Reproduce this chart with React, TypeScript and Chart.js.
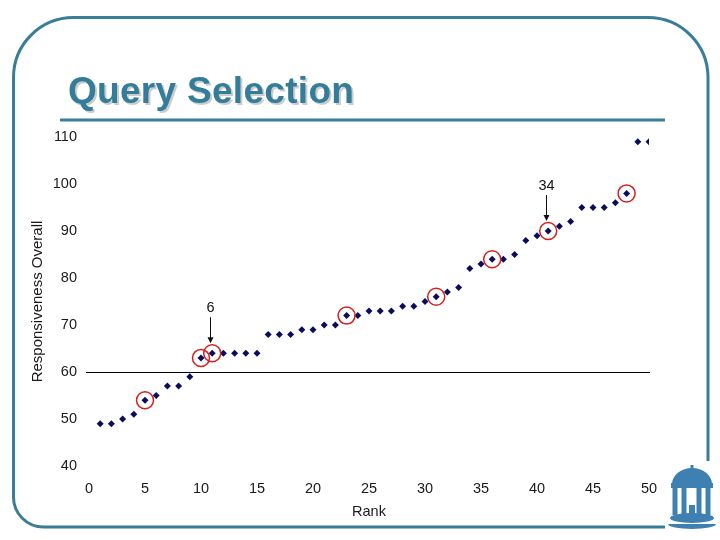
import React, { useEffect, useRef } from "react";
import { Chart, registerables } from "chart.js";

Chart.register(...registerables);

// ---- data ----
const ranks = [
  1, 2, 3, 4, 5, 6, 7, 8, 9, 10, 11, 12, 13, 14, 15, 16, 17, 18, 19, 20, 21, 22, 23, 24, 25,
  26, 27, 28, 29, 30, 31, 32, 33, 34, 35, 36, 37, 38, 39, 40, 41, 42, 43, 44, 45, 46, 47, 48, 49, 50,
];
const responsiveness = [
  49, 49, 50, 51, 54, 55, 57, 57, 59, 63, 64, 64, 64, 64, 64, 68, 68, 68, 69, 69, 70, 70, 72, 72, 73,
  73, 73, 74, 74, 75, 76, 77, 78, 82, 83, 84, 84, 85, 88, 89, 90, 91, 92, 95, 95, 95, 96, 98, 109, 109,
];
const selectedRanks = [5, 10, 11, 23, 31, 36, 41, 48];
const annotationLabels = ["6", "34"];
const annotationRanks = [11, 41];
const xTickValues = [0, 5, 10, 15, 20, 25, 30, 35, 40, 45, 50];
const yTickValues = [40, 50, 60, 70, 80, 90, 100, 110];
const referenceValue = 60;
const slideTitle = "Query Selection";
const xTitle = "Rank";
const yTitle = "Responsiveness Overall";

const TEAL = "#337c9a";
const LOGO = "#3f80b3";
const FONT = "Arial, 'Liberation Sans', sans-serif";

const slidePlugin = {
  id: "slide",
  beforeDraw(chart: any) {
    const ctx = chart.ctx;
    ctx.save();
    ctx.fillStyle = "#ffffff";
    ctx.fillRect(0, 0, chart.width, chart.height);

    // frame
    const L = 13.5, T = 17.5, R = 708, B = 527;
    const rt = 60, rb = 30;
    ctx.strokeStyle = "#3a7d99";
    ctx.lineWidth = 3;
    ctx.beginPath();
    ctx.moveTo(665, B);
    ctx.lineTo(L + rb, B);
    ctx.arcTo(L, B, L, B - rb, rb);
    ctx.lineTo(L, T + rt);
    ctx.arcTo(L, T, L + rt, T, rt);
    ctx.lineTo(R - rt, T);
    ctx.arcTo(R, T, R, T + rt, rt);
    ctx.lineTo(R, 461);
    ctx.stroke();

    // title
    ctx.font = `bold 37px ${FONT}`;
    try { (ctx as any).letterSpacing = "0.3px"; } catch (e) {}
    ctx.textBaseline = "alphabetic";
    ctx.textAlign = "left";
    ctx.fillStyle = "rgba(0,0,0,0.2)";
    ctx.fillText(slideTitle, 70, 105);
    ctx.fillStyle = TEAL;
    ctx.fillText(slideTitle, 68, 103);
    try { (ctx as any).letterSpacing = "0px"; } catch (e) {}

    // rule
    ctx.fillStyle = "#3a7d99";
    ctx.fillRect(60, 118.5, 605, 3);

    // logo (Old Well)
    ctx.fillStyle = LOGO;
    ctx.beginPath();
    ctx.ellipse(692, 484, 20, 16, 0, Math.PI, 2 * Math.PI);
    ctx.fill();
    ctx.fillRect(690.5, 465, 3, 4);
    ctx.fillRect(671, 483, 42, 5);
    const cols = [675, 684, 699, 708];
    cols.forEach((c) => ctx.fillRect(c - 2.5, 488, 5, 27));
    ctx.fillRect(689, 505, 6, 10);
    ctx.beginPath();
    ctx.ellipse(692, 518, 22, 5, 0, 0, 2 * Math.PI);
    ctx.fill();
    ctx.beginPath();
    ctx.ellipse(692, 524, 24, 5, 0, 0, Math.PI);
    ctx.fill();
    ctx.restore();
  },
  beforeDatasetsDraw(chart: any) {
    const ctx = chart.ctx;
    const y = chart.scales.y.getPixelForValue(referenceValue);
    const area = chart.chartArea;
    ctx.save();
    ctx.strokeStyle = "#000";
    ctx.lineWidth = 1;
    ctx.beginPath();
    ctx.moveTo(area.left - 3, Math.round(y) + 0.5);
    ctx.lineTo(area.right + 1, Math.round(y) + 0.5);
    ctx.stroke();
    ctx.restore();
  },
  afterDatasetsDraw(chart: any) {
    const ctx = chart.ctx;
    const xs = chart.scales.x;
    const ys = chart.scales.y;
    ctx.save();
    ctx.strokeStyle = "#d42020";
    ctx.lineWidth = 1.5;
    selectedRanks.forEach((r) => {
      const i = ranks.indexOf(r);
      const px = xs.getPixelForValue(r);
      const py = ys.getPixelForValue(responsiveness[i]);
      ctx.beginPath();
      ctx.arc(px, py, 8.5, 0, 2 * Math.PI);
      ctx.stroke();
    });

    ctx.fillStyle = "#111";
    ctx.strokeStyle = "#111";
    ctx.lineWidth = 1;
    ctx.font = `14.5px ${FONT}`;
    ctx.textAlign = "center";
    ctx.textBaseline = "middle";
    annotationLabels.forEach((lab, k) => {
      const r = annotationRanks[k];
      const i = ranks.indexOf(r);
      const px = Math.round(xs.getPixelForValue(r) - 2.5) + 0.5;
      const py = ys.getPixelForValue(responsiveness[i]);
      const tip = py - 10;
      ctx.beginPath();
      ctx.moveTo(px, tip - 26);
      ctx.lineTo(px, tip - 4);
      ctx.stroke();
      ctx.beginPath();
      ctx.moveTo(px - 3, tip - 6);
      ctx.lineTo(px + 3, tip - 6);
      ctx.lineTo(px, tip);
      ctx.closePath();
      ctx.fill();
      ctx.fillText(lab, px, tip - 35);
    });
    ctx.restore();
  },
};

export default function App() {
  const ref = useRef<HTMLCanvasElement | null>(null);
  useEffect(() => {
    if (!ref.current) return;
    const chart = new Chart(ref.current, {
      type: "scatter",
      data: {
        datasets: [
          {
            data: ranks.map((r, i) => ({ x: r, y: responsiveness[i] })),
            pointStyle: "rectRot",
            pointRadius: 3.5,
            pointBackgroundColor: "#0c0c5e",
            pointBorderColor: "#0c0c5e",
            pointBorderWidth: 0,
          },
        ],
      },
      options: {
        animation: false,
        responsive: false,
        layout: { padding: { top: 137, right: 71, bottom: 0, left: 0 } },
        plugins: { legend: { display: false }, tooltip: { enabled: false } },
        scales: {
          x: {
            type: "linear",
            min: 0,
            max: 50,
            afterFit: (s: any) => {
              s.height = 74;
            },
            afterBuildTicks: (s: any) => {
              s.ticks = xTickValues.map((v) => ({ value: v }));
            },
            grid: { display: false, drawTicks: false },
            border: { display: false },
            ticks: {
              autoSkip: false,
              maxRotation: 0,
              padding: 14,
              color: "#1a1a1a",
              font: { family: FONT, size: 14.5 },
            },
            title: {
              display: true,
              text: xTitle,
              color: "#1a1a1a",
              font: { family: FONT, size: 14.5 },
              padding: { top: 0, bottom: 19 },
            },
          },
          y: {
            type: "linear",
            min: 40,
            max: 110,
            afterFit: (s: any) => {
              s.width = 89;
            },
            afterBuildTicks: (s: any) => {
              s.ticks = yTickValues.map((v) => ({ value: v }));
            },
            grid: { display: false, drawTicks: false },
            border: { display: false },
            ticks: {
              autoSkip: false,
              padding: 12,
              color: "#1a1a1a",
              font: { family: FONT, size: 14.5 },
            },
            title: {
              display: true,
              text: yTitle,
              color: "#1a1a1a",
              font: { family: FONT, size: 15 },
              padding: { top: 28.5, bottom: 0 },
            },
          },
        },
      },
      plugins: [slidePlugin],
    });
    return () => chart.destroy();
  }, []);
  return (
    <div style={{ position: "fixed", left: 0, top: 0, width: 720, height: 540 }}>
      <canvas ref={ref} width={720} height={540} style={{ display: "block" }} />
    </div>
  );
}
